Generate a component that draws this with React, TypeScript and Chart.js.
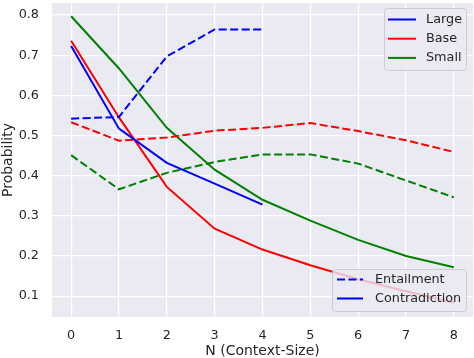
import React, { useEffect, useRef } from "react";
import { Chart, registerables } from "chart.js";

Chart.register(...registerables);

const xValues = [0, 1, 2, 3, 4, 5, 6, 7, 8];
const yTicks = [0.1, 0.2, 0.3, 0.4, 0.5, 0.6, 0.7, 0.8];

const largeEntailment = [0.542, 0.546, 0.697, 0.764, 0.764];
const largeContradiction = [0.723, 0.517, 0.432, 0.38, 0.328];
const baseEntailment = [0.533, 0.487, 0.495, 0.512, 0.519, 0.531, 0.511, 0.488, 0.459];
const baseContradiction = [0.736, 0.545, 0.372, 0.268, 0.216, 0.177, 0.142, 0.112, 0.084];
const smallEntailment = [0.451, 0.366, 0.407, 0.434, 0.453, 0.453, 0.43, 0.388, 0.346];
const smallContradiction = [0.797, 0.667, 0.519, 0.415, 0.34, 0.288, 0.24, 0.2, 0.172];

const modelNames = ["Large", "Base", "Small"];
const typeNames = ["Entailment", "Contradiction"];
const colors = ["#0000ff", "#ff0000", "#008000"];

const FONT = "'DejaVu Sans', sans-serif";
const TEXT = "#262626";
const DASH = [8, 3.5];

const toPts = (arr: number[]) => arr.map((y, i) => ({ x: xValues[i], y }));

const bgPlugin = {
  id: "bgPlugin",
  beforeDraw(chart: any) {
    const { ctx, chartArea } = chart;
    ctx.save();
    ctx.fillStyle = "#ffffff";
    ctx.fillRect(0, 0, chart.width, chart.height);
    ctx.fillStyle = "#eaeaf2";
    ctx.fillRect(chartArea.left, chartArea.top, chartArea.right - chartArea.left, chartArea.bottom - chartArea.top);
    ctx.restore();
  },
};

function roundRect(ctx: CanvasRenderingContext2D, x: number, y: number, w: number, h: number, r: number) {
  ctx.beginPath();
  ctx.moveTo(x + r, y);
  ctx.lineTo(x + w - r, y);
  ctx.quadraticCurveTo(x + w, y, x + w, y + r);
  ctx.lineTo(x + w, y + h - r);
  ctx.quadraticCurveTo(x + w, y + h, x + w - r, y + h);
  ctx.lineTo(x + r, y + h);
  ctx.quadraticCurveTo(x, y + h, x, y + h - r);
  ctx.lineTo(x, y + r);
  ctx.quadraticCurveTo(x, y, x + r, y);
  ctx.closePath();
}

const legendPlugin = {
  id: "legendPlugin",
  afterDraw(chart: any) {
    const { ctx } = chart;
    const drawBox = (x: number, y: number, w: number, h: number) => {
      ctx.save();
      roundRect(ctx, x + 0.5, y + 0.5, w, h, 3);
      ctx.fillStyle = "rgba(234,234,242,0.8)";
      ctx.fill();
      ctx.strokeStyle = "#cccccc";
      ctx.lineWidth = 1;
      ctx.stroke();
      ctx.restore();
    };
    const drawEntry = (x1: number, x2: number, y: number, color: string, dash: number[], label: string, tx: number) => {
      ctx.save();
      ctx.strokeStyle = color;
      ctx.lineWidth = 2;
      ctx.setLineDash(dash);
      ctx.beginPath();
      ctx.moveTo(x1, y);
      ctx.lineTo(x2, y);
      ctx.stroke();
      ctx.setLineDash([]);
      ctx.fillStyle = TEXT;
      ctx.font = `12.8px ${FONT}`;
      ctx.textBaseline = "middle";
      ctx.textAlign = "left";
      ctx.fillText(label, tx, y);
      ctx.restore();
    };
    // Model legend (top right)
    drawBox(384, 8, 82, 62);
    modelNames.forEach((name, i) => {
      drawEntry(388, 416, 19.5 + i * 19.2, colors[i], [], name, 426);
    });
    // Type legend (bottom right)
    drawBox(332, 269, 134, 42);
    drawEntry(337, 363, 279.5, "#0000ff", DASH, typeNames[0], 375);
    drawEntry(337, 363, 298.5, "#0000ff", [], typeNames[1], 375);
  },
};

const zeroPad = (s: any) => {
  s.paddingTop = 0;
  s.paddingBottom = 0;
  s.paddingLeft = 0;
  s.paddingRight = 0;
};

export default function App() {
  const ref = useRef<HTMLCanvasElement>(null);
  useEffect(() => {
    document.body.style.margin = "0";
    const canvas = ref.current!;
    const ds = (label: string, data: number[], color: string, dashed: boolean) => ({
      label,
      data: toPts(data),
      borderColor: color,
      backgroundColor: color,
      borderWidth: 2,
      borderDash: dashed ? DASH : [],
      pointRadius: 0,
      fill: false,
      tension: 0,
    });
    const chart = new Chart(canvas, {
      type: "line",
      data: {
        datasets: [
          ds("Large Entailment", largeEntailment, colors[0], true),
          ds("Large Contradiction", largeContradiction, colors[0], false),
          ds("Base Entailment", baseEntailment, colors[1], true),
          ds("Base Contradiction", baseContradiction, colors[1], false),
          ds("Small Entailment", smallEntailment, colors[2], true),
          ds("Small Contradiction", smallContradiction, colors[2], false),
        ],
      },
      options: {
        responsive: false,
        animation: false,
        devicePixelRatio: 1,
        layout: { padding: { left: 0, right: 1, top: 3, bottom: 0 } },
        plugins: { legend: { display: false }, tooltip: { enabled: false } },
        scales: {
          x: {
            type: "linear",
            min: -0.4,
            max: 8.4,
            afterBuildTicks: (s: any) => {
              s.ticks = xValues.map((v) => ({ value: v }));
            },
            afterFit: (s: any) => {
              s.height = 41;
              zeroPad(s);
            },
            border: { display: false },
            grid: { color: "#ffffff", lineWidth: 1.2, drawTicks: false },
            ticks: {
              color: TEXT,
              font: { family: FONT, size: 12.8 },
              padding: 11,
              maxRotation: 0,
              autoSkip: false,
            },
            title: {
              display: true,
              text: "N (Context-Size)",
              color: TEXT,
              font: { family: FONT, size: 14, lineHeight: 1 },
              padding: { top: 0, bottom: 0 },
            },
          },
          y: {
            type: "linear",
            min: 0.048,
            max: 0.83,
            afterBuildTicks: (s: any) => {
              s.ticks = yTicks.map((v) => ({ value: v }));
            },
            afterFit: (s: any) => {
              s.width = 52;
              zeroPad(s);
            },
            border: { display: false },
            grid: { color: "#ffffff", lineWidth: 1.2, drawTicks: false },
            ticks: {
              color: TEXT,
              font: { family: FONT, size: 12.8 },
              padding: 13,
              callback: (v: any) => Number(v).toFixed(1),
            },
            title: {
              display: true,
              text: "Probability",
              color: TEXT,
              font: { family: FONT, size: 14 },
              padding: { top: 0, bottom: 0 },
            },
          },
        },
      },
      plugins: [bgPlugin, legendPlugin],
    } as any);
    return () => chart.destroy();
  }, []);
  return (
    <div style={{ width: 474, height: 358 }}>
      <canvas ref={ref} width={474} height={358} style={{ display: "block" }} />
    </div>
  );
}
